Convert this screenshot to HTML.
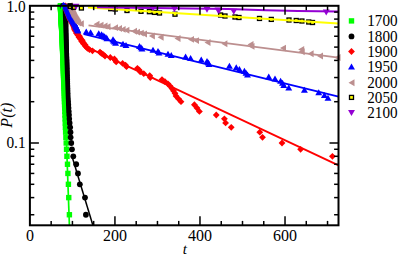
<!DOCTYPE html>
<html><head><meta charset="utf-8"><title>P(t)</title>
<style>html,body{margin:0;padding:0;background:#fff;}body{width:399px;height:255px;overflow:hidden;font-family:"Liberation Serif",serif;}</style></head>
<body>
<svg width="399" height="255" viewBox="0 0 399 255" style="display:block">
<rect x="0" y="0" width="399" height="255" fill="#fff"/>
<g fill="#00ff00"><rect x="57.7" y="3.1" width="5.4" height="5.4"/><rect x="57.73" y="3.7" width="5.4" height="5.4"/><rect x="57.77" y="4.3" width="5.4" height="5.4"/><rect x="57.8" y="4.91" width="5.4" height="5.4"/><rect x="57.83" y="5.53" width="5.4" height="5.4"/><rect x="57.87" y="6.16" width="5.4" height="5.4"/><rect x="57.9" y="6.79" width="5.4" height="5.4"/><rect x="57.94" y="7.42" width="5.4" height="5.4"/><rect x="57.97" y="8.07" width="5.4" height="5.4"/><rect x="58.01" y="8.72" width="5.4" height="5.4"/><rect x="58.04" y="9.38" width="5.4" height="5.4"/><rect x="58.08" y="10.04" width="5.4" height="5.4"/><rect x="58.12" y="10.72" width="5.4" height="5.4"/><rect x="58.15" y="11.4" width="5.4" height="5.4"/><rect x="58.19" y="12.09" width="5.4" height="5.4"/><rect x="58.23" y="12.78" width="5.4" height="5.4"/><rect x="58.27" y="13.49" width="5.4" height="5.4"/><rect x="58.3" y="14.2" width="5.4" height="5.4"/><rect x="58.34" y="14.92" width="5.4" height="5.4"/><rect x="58.38" y="15.66" width="5.4" height="5.4"/><rect x="58.42" y="16.4" width="5.4" height="5.4"/><rect x="58.47" y="17.15" width="5.4" height="5.4"/><rect x="58.51" y="17.9" width="5.4" height="5.4"/><rect x="58.55" y="18.67" width="5.4" height="5.4"/><rect x="58.59" y="19.45" width="5.4" height="5.4"/><rect x="58.63" y="20.24" width="5.4" height="5.4"/><rect x="58.68" y="21.04" width="5.4" height="5.4"/><rect x="58.72" y="21.85" width="5.4" height="5.4"/><rect x="58.77" y="22.67" width="5.4" height="5.4"/><rect x="58.81" y="23.51" width="5.4" height="5.4"/><rect x="58.86" y="24.35" width="5.4" height="5.4"/><rect x="58.9" y="25.21" width="5.4" height="5.4"/><rect x="58.95" y="26.08" width="5.4" height="5.4"/><rect x="59" y="26.96" width="5.4" height="5.4"/><rect x="59.05" y="27.86" width="5.4" height="5.4"/><rect x="59.1" y="28.77" width="5.4" height="5.4"/><rect x="59.15" y="29.69" width="5.4" height="5.4"/><rect x="59.2" y="30.63" width="5.4" height="5.4"/><rect x="59.25" y="31.58" width="5.4" height="5.4"/><rect x="59.3" y="32.55" width="5.4" height="5.4"/><rect x="59.36" y="33.54" width="5.4" height="5.4"/><rect x="59.41" y="34.54" width="5.4" height="5.4"/><rect x="59.45" y="35.56" width="5.4" height="5.4"/><rect x="59.48" y="36.59" width="5.4" height="5.4"/><rect x="59.52" y="37.65" width="5.4" height="5.4"/><rect x="59.56" y="38.72" width="5.4" height="5.4"/><rect x="59.6" y="39.82" width="5.4" height="5.4"/><rect x="59.64" y="40.93" width="5.4" height="5.4"/><rect x="59.68" y="42.06" width="5.4" height="5.4"/><rect x="59.73" y="43.22" width="5.4" height="5.4"/><rect x="59.77" y="44.4" width="5.4" height="5.4"/><rect x="59.81" y="45.61" width="5.4" height="5.4"/><rect x="59.86" y="46.83" width="5.4" height="5.4"/><rect x="59.9" y="48.09" width="5.4" height="5.4"/><rect x="59.95" y="49.37" width="5.4" height="5.4"/><rect x="60" y="50.68" width="5.4" height="5.4"/><rect x="60.05" y="52.02" width="5.4" height="5.4"/><rect x="60.1" y="53.39" width="5.4" height="5.4"/><rect x="60.15" y="54.79" width="5.4" height="5.4"/><rect x="60.2" y="56.23" width="5.4" height="5.4"/><rect x="60.26" y="57.7" width="5.4" height="5.4"/><rect x="60.31" y="59.21" width="5.4" height="5.4"/><rect x="60.37" y="60.75" width="5.4" height="5.4"/><rect x="60.43" y="62.34" width="5.4" height="5.4"/><rect x="60.48" y="63.98" width="5.4" height="5.4"/><rect x="60.55" y="65.65" width="5.4" height="5.4"/><rect x="60.61" y="67.38" width="5.4" height="5.4"/><rect x="60.67" y="69.16" width="5.4" height="5.4"/><rect x="60.74" y="70.99" width="5.4" height="5.4"/><rect x="60.81" y="72.89" width="5.4" height="5.4"/><rect x="60.88" y="74.84" width="5.4" height="5.4"/><rect x="60.96" y="76.86" width="5.4" height="5.4"/><rect x="61.03" y="78.95" width="5.4" height="5.4"/><rect x="61.11" y="81.12" width="5.4" height="5.4"/><rect x="61.19" y="83.37" width="5.4" height="5.4"/><rect x="61.28" y="85.7" width="5.4" height="5.4"/><rect x="61.37" y="88.14" width="5.4" height="5.4"/><rect x="61.46" y="90.67" width="5.4" height="5.4"/><rect x="61.56" y="93.32" width="5.4" height="5.4"/><rect x="61.66" y="96.09" width="5.4" height="5.4"/><rect x="61.77" y="99" width="5.4" height="5.4"/><rect x="61.88" y="102.06" width="5.4" height="5.4"/><rect x="61.99" y="105.28" width="5.4" height="5.4"/><rect x="62.12" y="108.68" width="5.4" height="5.4"/><rect x="62.25" y="112.29" width="5.4" height="5.4"/><rect x="62.39" y="116.14" width="5.4" height="5.4"/><rect x="62.54" y="120.25" width="5.4" height="5.4"/><rect x="62.7" y="124.67" width="5.4" height="5.4"/><rect x="62.92" y="129.44" width="5.4" height="5.4"/><rect x="63.2" y="134.62" width="5.4" height="5.4"/><rect x="63.51" y="140.3" width="5.4" height="5.4"/><rect x="63.85" y="146.58" width="5.4" height="5.4"/><rect x="64.24" y="153.6" width="5.4" height="5.4"/><rect x="64.79" y="161.55" width="5.4" height="5.4"/><rect x="65.22" y="170.74" width="5.4" height="5.4"/><rect x="65.71" y="181.6" width="5.4" height="5.4"/><rect x="66.05" y="194.9" width="5.4" height="5.4"/><rect x="66.7" y="212.04" width="5.4" height="5.4"/></g>
<g fill="#000"><circle cx="63" cy="5.8" r="2.9"/><circle cx="63.23" cy="6.4" r="2.9"/><circle cx="63.46" cy="7" r="2.9"/><circle cx="63.69" cy="7.61" r="2.9"/><circle cx="63.93" cy="8.23" r="2.9"/><circle cx="64.16" cy="8.86" r="2.9"/><circle cx="64.4" cy="9.49" r="2.9"/><circle cx="64.61" cy="10.12" r="2.9"/><circle cx="64.65" cy="10.77" r="2.9"/><circle cx="64.7" cy="11.42" r="2.9"/><circle cx="64.75" cy="12.08" r="2.9"/><circle cx="64.79" cy="12.74" r="2.9"/><circle cx="64.84" cy="13.42" r="2.9"/><circle cx="64.89" cy="14.1" r="2.9"/><circle cx="64.94" cy="14.79" r="2.9"/><circle cx="64.98" cy="15.48" r="2.9"/><circle cx="65.03" cy="16.19" r="2.9"/><circle cx="65.08" cy="16.9" r="2.9"/><circle cx="65.13" cy="17.62" r="2.9"/><circle cx="65.18" cy="18.36" r="2.9"/><circle cx="65.24" cy="19.1" r="2.9"/><circle cx="65.29" cy="19.85" r="2.9"/><circle cx="65.31" cy="20.6" r="2.9"/><circle cx="65.32" cy="21.37" r="2.9"/><circle cx="65.34" cy="22.15" r="2.9"/><circle cx="65.35" cy="22.94" r="2.9"/><circle cx="65.37" cy="23.74" r="2.9"/><circle cx="65.38" cy="24.55" r="2.9"/><circle cx="65.39" cy="25.37" r="2.9"/><circle cx="65.41" cy="26.21" r="2.9"/><circle cx="65.42" cy="27.05" r="2.9"/><circle cx="65.44" cy="27.91" r="2.9"/><circle cx="65.45" cy="28.78" r="2.9"/><circle cx="65.47" cy="29.66" r="2.9"/><circle cx="65.49" cy="30.56" r="2.9"/><circle cx="65.5" cy="31.47" r="2.9"/><circle cx="65.52" cy="32.39" r="2.9"/><circle cx="65.54" cy="33.33" r="2.9"/><circle cx="65.55" cy="34.28" r="2.9"/><circle cx="65.57" cy="35.25" r="2.9"/><circle cx="65.59" cy="36.24" r="2.9"/><circle cx="65.61" cy="37.24" r="2.9"/><circle cx="65.65" cy="38.26" r="2.9"/><circle cx="65.68" cy="39.29" r="2.9"/><circle cx="65.72" cy="40.35" r="2.9"/><circle cx="65.76" cy="41.42" r="2.9"/><circle cx="65.8" cy="42.52" r="2.9"/><circle cx="65.85" cy="43.63" r="2.9"/><circle cx="65.89" cy="44.76" r="2.9"/><circle cx="65.93" cy="45.92" r="2.9"/><circle cx="65.97" cy="47.1" r="2.9"/><circle cx="66.02" cy="48.31" r="2.9"/><circle cx="66.06" cy="49.53" r="2.9"/><circle cx="66.11" cy="50.79" r="2.9"/><circle cx="66.16" cy="52.07" r="2.9"/><circle cx="66.21" cy="53.38" r="2.9"/><circle cx="66.26" cy="54.72" r="2.9"/><circle cx="66.31" cy="56.09" r="2.9"/><circle cx="66.36" cy="57.49" r="2.9"/><circle cx="66.41" cy="58.93" r="2.9"/><circle cx="66.47" cy="60.4" r="2.9"/><circle cx="66.52" cy="61.91" r="2.9"/><circle cx="66.58" cy="63.45" r="2.9"/><circle cx="66.64" cy="65.04" r="2.9"/><circle cx="66.69" cy="66.68" r="2.9"/><circle cx="66.75" cy="68.35" r="2.9"/><circle cx="66.81" cy="70.08" r="2.9"/><circle cx="66.87" cy="71.86" r="2.9"/><circle cx="66.93" cy="73.69" r="2.9"/><circle cx="67" cy="75.59" r="2.9"/><circle cx="67.07" cy="77.54" r="2.9"/><circle cx="67.13" cy="79.56" r="2.9"/><circle cx="67.21" cy="81.65" r="2.9"/><circle cx="67.28" cy="83.82" r="2.9"/><circle cx="67.36" cy="86.07" r="2.9"/><circle cx="67.44" cy="88.4" r="2.9"/><circle cx="67.52" cy="90.84" r="2.9"/><circle cx="67.61" cy="93.37" r="2.9"/><circle cx="67.7" cy="96.02" r="2.9"/><circle cx="67.89" cy="98.79" r="2.9"/><circle cx="68.08" cy="101.7" r="2.9"/><circle cx="68.28" cy="104.76" r="2.9"/><circle cx="68.5" cy="107.98" r="2.9"/><circle cx="68.73" cy="111.38" r="2.9"/><circle cx="68.97" cy="114.99" r="2.9"/><circle cx="69.22" cy="118.84" r="2.9"/><circle cx="69.63" cy="122.95" r="2.9"/><circle cx="70.13" cy="127.37" r="2.9"/><circle cx="70.48" cy="132.14" r="2.9"/><circle cx="70.6" cy="137.32" r="2.9"/><circle cx="71.25" cy="143" r="2.9"/><circle cx="71.95" cy="149.28" r="2.9"/><circle cx="73.3" cy="156.3" r="2.9"/><circle cx="76.2" cy="164.25" r="2.9"/><circle cx="77.96" cy="173.44" r="2.9"/><circle cx="79.83" cy="184.3" r="2.9"/><circle cx="85" cy="197.6" r="2.9"/><circle cx="85.9" cy="214.74" r="2.9"/></g>
<g fill="#ff0000"><path d="M62.1 5.8L65.5 2.4L68.9 5.8L65.5 9.2Z"/><path d="M62.24 6.4L65.64 3L69.04 6.4L65.64 9.8Z"/><path d="M62.39 7L65.79 3.6L69.19 7L65.79 10.4Z"/><path d="M62.53 7.61L65.93 4.21L69.33 7.61L65.93 11.01Z"/><path d="M62.68 8.23L66.08 4.83L69.48 8.23L66.08 11.63Z"/><path d="M62.83 8.86L66.23 5.46L69.63 8.86L66.23 12.26Z"/><path d="M62.98 9.49L66.38 6.09L69.78 9.49L66.38 12.89Z"/><path d="M63.15 10.12L66.55 6.72L69.95 10.12L66.55 13.52Z"/><path d="M63.4 10.77L66.8 7.37L70.2 10.77L66.8 14.17Z"/><path d="M63.65 11.42L67.05 8.02L70.45 11.42L67.05 14.82Z"/><path d="M63.91 12.08L67.31 8.68L70.71 12.08L67.31 15.48Z"/><path d="M64.17 12.74L67.57 9.34L70.97 12.74L67.57 16.14Z"/><path d="M64.43 13.42L67.83 10.02L71.23 13.42L67.83 16.82Z"/><path d="M64.7 14.1L68.1 10.7L71.5 14.1L68.1 17.5Z"/><path d="M64.97 14.79L68.37 11.39L71.77 14.79L68.37 18.19Z"/><path d="M65.24 15.48L68.64 12.08L72.04 15.48L68.64 18.88Z"/><path d="M65.51 16.19L68.91 12.79L72.31 16.19L68.91 19.59Z"/><path d="M65.79 16.9L69.19 13.5L72.59 16.9L69.19 20.3Z"/><path d="M66.07 17.62L69.47 14.22L72.87 17.62L69.47 21.02Z"/><path d="M66.36 18.36L69.76 14.96L73.16 18.36L69.76 21.76Z"/><path d="M66.65 19.1L70.05 15.7L73.45 19.1L70.05 22.5Z"/><path d="M66.94 19.85L70.34 16.45L73.74 19.85L70.34 23.25Z"/><path d="M67.36 20.6L70.76 17.2L74.16 20.6L70.76 24Z"/><path d="M67.82 21.37L71.22 17.97L74.62 21.37L71.22 24.77Z"/><path d="M68.29 22.15L71.69 18.75L75.09 22.15L71.69 25.55Z"/><path d="M68.76 22.94L72.16 19.54L75.56 22.94L72.16 26.34Z"/><path d="M69.24 23.74L72.64 20.34L76.04 23.74L72.64 27.14Z"/><path d="M69.63 24.55L73.03 21.15L76.43 24.55L73.03 27.95Z"/><path d="M69.97 25.37L73.37 21.97L76.77 25.37L73.37 28.77Z"/><path d="M70.32 26.21L73.72 22.81L77.12 26.21L73.72 29.61Z"/><path d="M70.67 27.05L74.07 23.65L77.47 27.05L74.07 30.45Z"/><path d="M70.73 27.91L74.13 24.51L77.53 27.91L74.13 31.31Z"/><path d="M71.99 28.78L75.39 25.38L78.79 28.78L75.39 32.18Z"/><path d="M71.16 29.66L74.56 26.26L77.96 29.66L74.56 33.06Z"/><path d="M72.4 30.56L75.8 27.16L79.2 30.56L75.8 33.96Z"/><path d="M72.38 31.47L75.78 28.07L79.18 31.47L75.78 34.87Z"/><path d="M73.78 32.39L77.18 28.99L80.58 32.39L77.18 35.79Z"/><path d="M73.08 33.33L76.48 29.93L79.88 33.33L76.48 36.73Z"/><path d="M74.45 34.28L77.85 30.88L81.25 34.28L77.85 37.68Z"/><path d="M74.59 35.25L77.99 31.85L81.39 35.25L77.99 38.65Z"/><path d="M76.14 36.24L79.54 32.84L82.94 36.24L79.54 39.64Z"/><path d="M75.6 37.24L79 33.84L82.4 37.24L79 40.64Z"/><path d="M77.08 38.26L80.48 34.86L83.88 38.26L80.48 41.66Z"/><path d="M77.25 39.29L80.65 35.89L84.05 39.29L80.65 42.69Z"/><path d="M78.82 40.35L82.22 36.95L85.62 40.35L82.22 43.75Z"/><path d="M78.31 41.42L81.71 38.02L85.11 41.42L81.71 44.82Z"/><path d="M79.81 42.52L83.21 39.12L86.61 42.52L83.21 45.92Z"/><path d="M80.02 43.63L83.42 40.23L86.82 43.63L83.42 47.03Z"/><path d="M81.65 44.76L85.05 41.36L88.45 44.76L85.05 48.16Z"/><path d="M81.9 45.92L85.3 42.52L88.7 45.92L85.3 49.32Z"/><path d="M82.9 47.1L86.3 43.7L89.7 47.1L86.3 50.5Z"/><path d="M84.1 48.31L87.5 44.91L90.9 48.31L87.5 51.71Z"/><path d="M86.1 49.53L89.5 46.13L92.9 49.53L89.5 52.93Z"/><path d="M89.1 50.79L92.5 47.39L95.9 50.79L92.5 54.19Z"/><path d="M96.6 52.07L100 48.67L103.4 52.07L100 55.47Z"/><path d="M98.1 53.38L101.5 49.98L104.9 53.38L101.5 56.78Z"/><path d="M100.1 54.72L103.5 51.32L106.9 54.72L103.5 58.12Z"/><path d="M101.6 56.09L105 52.69L108.4 56.09L105 59.49Z"/><path d="M106.9 57.49L110.3 54.09L113.7 57.49L110.3 60.89Z"/><path d="M111 58.93L114.4 55.53L117.8 58.93L114.4 62.33Z"/><path d="M111.9 60.4L115.3 57L118.7 60.4L115.3 63.8Z"/><path d="M112.8 61.91L116.2 58.51L119.6 61.91L116.2 65.31Z"/><path d="M119.2 63.45L122.6 60.05L126 63.45L122.6 66.85Z"/><path d="M122.1 65.04L125.5 61.64L128.9 65.04L125.5 68.44Z"/><path d="M123.1 66.68L126.5 63.28L129.9 66.68L126.5 70.08Z"/><path d="M134 68.35L137.4 64.95L140.8 68.35L137.4 71.75Z"/><path d="M135.8 70.08L139.2 66.68L142.6 70.08L139.2 73.48Z"/><path d="M136.8 71.86L140.2 68.46L143.6 71.86L140.2 75.26Z"/><path d="M140.4 73.69L143.8 70.29L147.2 73.69L143.8 77.09Z"/><path d="M146.3 75.59L149.7 72.19L153.1 75.59L149.7 78.99Z"/><path d="M146.9 77.54L150.3 74.14L153.7 77.54L150.3 80.94Z"/><path d="M158.6 79.56L162 76.16L165.4 79.56L162 82.96Z"/><path d="M161.6 81.65L165 78.25L168.4 81.65L165 85.05Z"/><path d="M164.6 83.82L168 80.42L171.4 83.82L168 87.22Z"/><path d="M166.6 86.07L170 82.67L173.4 86.07L170 89.47Z"/><path d="M168.6 88.4L172 85L175.4 88.4L172 91.8Z"/><path d="M170.1 90.84L173.5 87.44L176.9 90.84L173.5 94.24Z"/><path d="M171.6 93.37L175 89.97L178.4 93.37L175 96.77Z"/><path d="M172.6 96.02L176 92.62L179.4 96.02L176 99.42Z"/><path d="M175.1 98.79L178.5 95.39L181.9 98.79L178.5 102.19Z"/><path d="M177.6 101.7L181 98.3L184.4 101.7L181 105.1Z"/><path d="M191 104.76L194.4 101.36L197.8 104.76L194.4 108.16Z"/><path d="M193.6 107.98L197 104.58L200.4 107.98L197 111.38Z"/><path d="M196 111.38L199.4 107.98L202.8 111.38L199.4 114.78Z"/><path d="M212.85 114.99L216.25 111.59L219.65 114.99L216.25 118.39Z"/><path d="M221 118.84L224.4 115.44L227.8 118.84L224.4 122.24Z"/><path d="M222.2 122.95L225.6 119.55L229 122.95L225.6 126.35Z"/><path d="M227.85 127.37L231.25 123.97L234.65 127.37L231.25 130.77Z"/><path d="M256.35 132.14L259.75 128.74L263.15 132.14L259.75 135.54Z"/><path d="M259.1 137.32L262.5 133.92L265.9 137.32L262.5 140.72Z"/><path d="M278.6 143L282 139.6L285.4 143L282 146.4Z"/><path d="M297.2 149.28L300.6 145.88L304 149.28L300.6 152.68Z"/><path d="M329 156.3L332.4 152.9L335.8 156.3L332.4 159.7Z"/></g>
<g fill="#0000ff"><path d="M63.3 1.8L66.76 7.8L59.84 7.8Z"/><path d="M64.17 2.4L67.64 8.4L60.71 8.4Z"/><path d="M65.05 3L68.51 9L61.59 9Z"/><path d="M65.94 3.61L69.4 9.61L62.48 9.61Z"/><path d="M66.6 4.23L70.06 10.23L63.13 10.23Z"/><path d="M66.85 4.86L70.32 10.86L63.39 10.86Z"/><path d="M67.11 5.49L70.57 11.49L63.65 11.49Z"/><path d="M67.37 6.12L70.83 12.12L63.91 12.12Z"/><path d="M67.64 6.77L71.1 12.77L64.17 12.77Z"/><path d="M67.9 7.42L71.37 13.42L64.44 13.42Z"/><path d="M68.17 8.08L71.64 14.08L64.71 14.08Z"/><path d="M68.44 8.74L71.91 14.74L64.98 14.74Z"/><path d="M68.72 9.42L72.18 15.42L65.26 15.42Z"/><path d="M69 10.1L72.46 16.1L65.54 16.1Z"/><path d="M69.28 10.79L72.75 16.79L65.82 16.79Z"/><path d="M69.57 11.48L73.03 17.48L66.1 17.48Z"/><path d="M69.86 12.19L73.32 18.19L66.39 18.19Z"/><path d="M70.15 12.9L73.61 18.9L66.69 18.9Z"/><path d="M70.45 13.62L73.91 19.62L66.98 19.62Z"/><path d="M70.81 14.36L74.28 20.36L67.35 20.36Z"/><path d="M71.26 15.1L74.72 21.1L67.79 21.1Z"/><path d="M71.71 15.85L75.17 21.85L68.24 21.85Z"/><path d="M72.16 16.6L75.63 22.6L68.7 22.6Z"/><path d="M72.62 17.37L76.09 23.37L69.16 23.37Z"/><path d="M73.09 18.15L76.55 24.15L69.62 24.15Z"/><path d="M73.54 18.94L77.01 24.94L70.08 24.94Z"/><path d="M74 19.74L77.47 25.74L70.54 25.74Z"/><path d="M74.47 20.55L77.93 26.55L71 26.55Z"/><path d="M74.94 21.37L78.4 27.37L71.48 27.37Z"/><path d="M75.4 22.21L78.86 28.21L71.93 28.21Z"/><path d="M75.8 23.05L79.26 29.05L72.33 29.05Z"/><path d="M76.2 23.91L79.67 29.91L72.74 29.91Z"/><path d="M76.61 24.78L80.08 30.78L73.15 30.78Z"/><path d="M77.03 25.66L80.5 31.66L73.57 31.66Z"/><path d="M77.45 26.56L80.92 32.56L73.99 32.56Z"/><path d="M77.89 27.47L81.35 33.47L74.42 33.47Z"/><path d="M86.25 28.39L89.71 34.39L82.79 34.39Z"/><path d="M90.6 29.33L94.06 35.33L87.14 35.33Z"/><path d="M98.75 30.28L102.21 36.28L95.29 36.28Z"/><path d="M101.5 31.25L104.96 37.25L98.04 37.25Z"/><path d="M103 32.24L106.46 38.24L99.54 38.24Z"/><path d="M104.5 33.24L107.96 39.24L101.04 39.24Z"/><path d="M106 34.26L109.46 40.26L102.54 40.26Z"/><path d="M107 35.29L110.46 41.29L103.54 41.29Z"/><path d="M113 36.35L116.46 42.35L109.54 42.35Z"/><path d="M113.5 37.42L116.96 43.42L110.04 43.42Z"/><path d="M114.5 38.52L117.96 44.52L111.04 44.52Z"/><path d="M115.6 39.63L119.06 45.63L112.14 45.63Z"/><path d="M123 40.76L126.46 46.76L119.54 46.76Z"/><path d="M126 41.92L129.46 47.92L122.54 47.92Z"/><path d="M139.5 43.1L142.96 49.1L136.04 49.1Z"/><path d="M141 44.31L144.46 50.31L137.54 50.31Z"/><path d="M142 45.53L145.46 51.53L138.54 51.53Z"/><path d="M153 46.79L156.46 52.79L149.54 52.79Z"/><path d="M158 48.07L161.46 54.07L154.54 54.07Z"/><path d="M159 49.38L162.46 55.38L155.54 55.38Z"/><path d="M168 50.72L171.46 56.72L164.54 56.72Z"/><path d="M171.25 52.09L174.71 58.09L167.79 58.09Z"/><path d="M185.6 53.49L189.06 59.49L182.14 59.49Z"/><path d="M190.6 54.93L194.06 60.93L187.14 60.93Z"/><path d="M201.25 56.4L204.71 62.4L197.79 62.4Z"/><path d="M207 57.91L210.46 63.91L203.54 63.91Z"/><path d="M208.3 59.45L211.76 65.45L204.84 65.45Z"/><path d="M209 61.04L212.46 67.04L205.54 67.04Z"/><path d="M229.4 62.68L232.86 68.68L225.94 68.68Z"/><path d="M236.25 64.35L239.71 70.35L232.79 70.35Z"/><path d="M239.4 66.08L242.86 72.08L235.94 72.08Z"/><path d="M244.4 67.86L247.86 73.86L240.94 73.86Z"/><path d="M246 69.69L249.46 75.69L242.54 75.69Z"/><path d="M247.5 71.59L250.96 77.59L244.04 77.59Z"/><path d="M268.75 73.54L272.21 79.54L265.29 79.54Z"/><path d="M275 75.56L278.46 81.56L271.54 81.56Z"/><path d="M280.6 77.65L284.06 83.65L277.14 83.65Z"/><path d="M282.5 79.82L285.96 85.82L279.04 85.82Z"/><path d="M283.75 82.07L287.21 88.07L280.29 88.07Z"/><path d="M288.75 84.4L292.21 90.4L285.29 90.4Z"/><path d="M304.4 86.84L307.86 92.84L300.94 92.84Z"/><path d="M318.75 89.37L322.21 95.37L315.29 95.37Z"/><path d="M324.4 92.02L327.86 98.02L320.94 98.02Z"/><path d="M328 94.79L331.46 100.79L324.54 100.79Z"/></g>
<g fill="#bc8f8f"><path d="M66.5 5.8L72.5 2.34L72.5 9.26Z"/><path d="M66.74 6.4L72.74 2.93L72.74 9.86Z"/><path d="M66.99 7L72.99 3.54L72.99 10.47Z"/><path d="M67.23 7.61L73.23 4.15L73.23 11.08Z"/><path d="M67.48 8.23L73.48 4.77L73.48 11.7Z"/><path d="M67.74 8.86L73.74 5.39L73.74 12.32Z"/><path d="M67.99 9.49L73.99 6.02L73.99 12.95Z"/><path d="M68.25 10.12L74.25 6.66L74.25 13.59Z"/><path d="M68.54 10.77L74.54 7.3L74.54 14.23Z"/><path d="M68.82 11.42L74.82 7.96L74.82 14.88Z"/><path d="M69.11 12.08L75.11 8.61L75.11 15.54Z"/><path d="M69.4 12.74L75.4 9.28L75.4 16.21Z"/><path d="M69.69 13.42L75.69 9.95L75.69 16.88Z"/><path d="M69.99 14.1L75.99 10.63L75.99 17.56Z"/><path d="M70.29 14.79L76.29 11.32L76.29 18.25Z"/><path d="M70.6 15.48L76.6 12.02L76.6 18.95Z"/><path d="M70.91 16.19L76.91 12.72L76.91 19.65Z"/><path d="M71.31 16.9L77.31 13.44L77.31 20.37Z"/><path d="M71.75 17.62L77.75 14.16L77.75 21.09Z"/><path d="M72.2 18.36L78.2 14.89L78.2 21.82Z"/><path d="M72.65 19.1L78.65 15.63L78.65 22.56Z"/><path d="M73.11 19.85L79.11 16.38L79.11 23.31Z"/><path d="M73.58 20.6L79.58 17.14L79.58 24.07Z"/><path d="M74.05 21.37L80.05 17.91L80.05 24.84Z"/><path d="M74.54 22.15L80.54 18.69L80.54 25.62Z"/><path d="M75.15 22.94L81.15 19.48L81.15 26.41Z"/><path d="M77.8 23.74L83.8 20.28L83.8 27.21Z"/><path d="M93.5 24.3L99.5 20.84L99.5 27.76Z"/><path d="M97.5 25.1L103.5 21.64L103.5 28.56Z"/><path d="M101.5 25.95L107.5 22.49L107.5 29.41Z"/><path d="M104.5 26.8L110.5 23.34L110.5 30.26Z"/><path d="M112 27.65L118 24.19L118 31.11Z"/><path d="M116 28.5L122 25.04L122 31.96Z"/><path d="M119.6 29.4L125.6 25.94L125.6 32.86Z"/><path d="M123.4 30.3L129.4 26.84L129.4 33.76Z"/><path d="M131 31.2L137 27.74L137 34.66Z"/><path d="M134 32.15L140 28.69L140 35.61Z"/><path d="M137.75 33.1L143.75 29.64L143.75 36.56Z"/><path d="M141 34L147 30.54L147 37.46Z"/><path d="M148.9 36L154.9 32.54L154.9 39.46Z"/><path d="M157.6 37.3L163.6 33.84L163.6 40.76Z"/><path d="M174.5 38.5L180.5 35.04L180.5 41.96Z"/><path d="M188 39.4L194 35.94L194 42.86Z"/><path d="M193 40.6L199 37.14L199 44.06Z"/><path d="M204.5 42.5L210.5 39.04L210.5 45.96Z"/><path d="M221.4 43.75L227.4 40.29L227.4 47.21Z"/><path d="M247.5 44.4L253.5 40.94L253.5 47.86Z"/><path d="M248.5 46.4L254.5 42.94L254.5 49.86Z"/><path d="M280 48.1L286 44.64L286 51.56Z"/><path d="M298.2 49.4L304.2 45.94L304.2 52.86Z"/><path d="M298.7 51.8L304.7 48.34L304.7 55.26Z"/><path d="M307.6 53.75L313.6 50.29L313.6 57.21Z"/><path d="M317 56L323 52.54L323 59.46Z"/><path d="M334.5 57.5L340.5 54.04L340.5 60.96Z"/></g>
<g fill="#ffff00" stroke="#000" stroke-width="1.3"><rect x="68" y="3.8" width="4" height="4"/><rect x="68.5" y="4.4" width="4" height="4"/><rect x="71.5" y="5.3" width="4" height="4"/><rect x="79.4" y="6" width="4" height="4"/><rect x="108.7" y="6.7" width="4" height="4"/><rect x="113.3" y="7" width="4" height="4"/><rect x="125" y="8.5" width="4" height="4"/><rect x="139" y="9.3" width="4" height="4"/><rect x="147.4" y="9.7" width="4" height="4"/><rect x="152.4" y="10.4" width="4" height="4"/><rect x="157.5" y="11" width="4" height="4"/><rect x="173" y="12.2" width="4" height="4"/><rect x="218.6" y="13" width="4" height="4"/><rect x="223" y="14" width="4" height="4"/><rect x="233" y="15" width="4" height="4"/><rect x="237" y="15.5" width="4" height="4"/><rect x="257.5" y="16.45" width="4" height="4"/><rect x="269.3" y="17.4" width="4" height="4"/><rect x="287" y="18" width="4" height="4"/><rect x="294.25" y="18.5" width="4" height="4"/><rect x="299.9" y="19" width="4" height="4"/><rect x="306.75" y="20" width="4" height="4"/><rect x="310.5" y="20.5" width="4" height="4"/></g>
<g fill="#9400d3"><path d="M76 9.8L79.46 3.8L72.54 3.8Z"/><path d="M113 11L116.46 5L109.54 5Z"/><path d="M153 11.6L156.46 5.6L149.54 5.6Z"/><path d="M174.4 12.2L177.86 6.2L170.94 6.2Z"/><path d="M207 12.86L210.46 6.86L203.54 6.86Z"/><path d="M218 13.5L221.46 7.5L214.54 7.5Z"/><path d="M219 14.1L222.46 8.1L215.54 8.1Z"/><path d="M233.75 14.8L237.21 8.8L230.29 8.8Z"/><path d="M326.25 15.4L329.71 9.4L322.79 9.4Z"/></g>
<line x1="61.7" y1="5.8" x2="69.4" y2="225" stroke="#00ff00" stroke-width="1.7"/>
<line x1="72.5" y1="158" x2="92.8" y2="225" stroke="#000" stroke-width="1.5"/>
<line x1="88" y1="47.67" x2="338.5" y2="165.4" stroke="#ff0000" stroke-width="1.8"/>
<line x1="84" y1="34.23" x2="338.5" y2="96.58" stroke="#0000ff" stroke-width="1.8"/>
<line x1="88.5" y1="25.41" x2="338.5" y2="57.56" stroke="#bc8f8f" stroke-width="1.8"/>
<line x1="88" y1="7.55" x2="338.5" y2="23.48" stroke="#ffff00" stroke-width="2"/>
<polyline points="97,7.2 190,8.4 228,9.1 266,10.3 298,11.0 338.5,11.6" fill="none" stroke="#9400d3" stroke-width="2"/>
<g stroke="#000" stroke-width="2.0" fill="none" stroke-linecap="butt">
<rect x="29.9" y="5.8" width="308.6" height="219.5"/>
</g>
<g stroke="#000" stroke-width="1.5"><line x1="51.16" y1="225.3" x2="51.16" y2="220.9"/><line x1="51.16" y1="5.8" x2="51.16" y2="10.2"/><line x1="72.42" y1="225.3" x2="72.42" y2="220.9"/><line x1="72.42" y1="5.8" x2="72.42" y2="10.2"/><line x1="93.68" y1="225.3" x2="93.68" y2="220.9"/><line x1="93.68" y1="5.8" x2="93.68" y2="10.2"/><line x1="114.94" y1="225.3" x2="114.94" y2="216.3"/><line x1="114.94" y1="5.8" x2="114.94" y2="14.8"/><line x1="136.2" y1="225.3" x2="136.2" y2="220.9"/><line x1="136.2" y1="5.8" x2="136.2" y2="10.2"/><line x1="157.46" y1="225.3" x2="157.46" y2="220.9"/><line x1="157.46" y1="5.8" x2="157.46" y2="10.2"/><line x1="178.72" y1="225.3" x2="178.72" y2="220.9"/><line x1="178.72" y1="5.8" x2="178.72" y2="10.2"/><line x1="199.98" y1="225.3" x2="199.98" y2="216.3"/><line x1="199.98" y1="5.8" x2="199.98" y2="14.8"/><line x1="221.24" y1="225.3" x2="221.24" y2="220.9"/><line x1="221.24" y1="5.8" x2="221.24" y2="10.2"/><line x1="242.5" y1="225.3" x2="242.5" y2="220.9"/><line x1="242.5" y1="5.8" x2="242.5" y2="10.2"/><line x1="263.76" y1="225.3" x2="263.76" y2="220.9"/><line x1="263.76" y1="5.8" x2="263.76" y2="10.2"/><line x1="285.02" y1="225.3" x2="285.02" y2="216.3"/><line x1="285.02" y1="5.8" x2="285.02" y2="14.8"/><line x1="306.28" y1="225.3" x2="306.28" y2="220.9"/><line x1="306.28" y1="5.8" x2="306.28" y2="10.2"/><line x1="327.54" y1="225.3" x2="327.54" y2="220.9"/><line x1="327.54" y1="5.8" x2="327.54" y2="10.2"/><line x1="29.9" y1="12.08" x2="34.3" y2="12.08"/><line x1="338.5" y1="12.08" x2="334.1" y2="12.08"/><line x1="29.9" y1="19.1" x2="34.3" y2="19.1"/><line x1="338.5" y1="19.1" x2="334.1" y2="19.1"/><line x1="29.9" y1="27.05" x2="34.3" y2="27.05"/><line x1="338.5" y1="27.05" x2="334.1" y2="27.05"/><line x1="29.9" y1="36.24" x2="34.3" y2="36.24"/><line x1="338.5" y1="36.24" x2="334.1" y2="36.24"/><line x1="29.9" y1="47.1" x2="34.3" y2="47.1"/><line x1="338.5" y1="47.1" x2="334.1" y2="47.1"/><line x1="29.9" y1="60.4" x2="34.3" y2="60.4"/><line x1="338.5" y1="60.4" x2="334.1" y2="60.4"/><line x1="29.9" y1="77.54" x2="34.3" y2="77.54"/><line x1="338.5" y1="77.54" x2="334.1" y2="77.54"/><line x1="29.9" y1="101.7" x2="34.3" y2="101.7"/><line x1="338.5" y1="101.7" x2="334.1" y2="101.7"/><line x1="29.9" y1="143" x2="38.9" y2="143"/><line x1="338.5" y1="143" x2="329.5" y2="143"/><line x1="29.9" y1="149.28" x2="34.3" y2="149.28"/><line x1="338.5" y1="149.28" x2="334.1" y2="149.28"/><line x1="29.9" y1="156.3" x2="34.3" y2="156.3"/><line x1="338.5" y1="156.3" x2="334.1" y2="156.3"/><line x1="29.9" y1="164.25" x2="34.3" y2="164.25"/><line x1="338.5" y1="164.25" x2="334.1" y2="164.25"/><line x1="29.9" y1="173.44" x2="34.3" y2="173.44"/><line x1="338.5" y1="173.44" x2="334.1" y2="173.44"/><line x1="29.9" y1="184.3" x2="34.3" y2="184.3"/><line x1="338.5" y1="184.3" x2="334.1" y2="184.3"/><line x1="29.9" y1="197.6" x2="34.3" y2="197.6"/><line x1="338.5" y1="197.6" x2="334.1" y2="197.6"/><line x1="29.9" y1="214.74" x2="34.3" y2="214.74"/><line x1="338.5" y1="214.74" x2="334.1" y2="214.74"/></g>
<g font-family="Liberation Serif, serif" fill="#000">
<text x="25.6" y="11.6" font-size="16" text-anchor="end" textLength="19.2" lengthAdjust="spacingAndGlyphs">1.0</text>
<text x="25.6" y="148.3" font-size="16" text-anchor="end" textLength="19.2" lengthAdjust="spacingAndGlyphs">0.1</text>
<text x="29.9" y="241.3" font-size="16" text-anchor="middle">0</text>
<text x="114.94" y="241.3" font-size="16" text-anchor="middle">200</text>
<text x="199.98" y="241.3" font-size="16" text-anchor="middle">400</text>
<text x="285.02" y="241.3" font-size="16" text-anchor="middle">600</text>
<text x="184.8" y="253.9" font-size="15" font-style="italic" text-anchor="middle">t</text>
<text transform="translate(11.8,115.2) rotate(-90)" font-size="16" font-style="italic" text-anchor="middle">P(t)</text>
<text x="367.3" y="26.1" font-size="16" textLength="30.3" lengthAdjust="spacingAndGlyphs">1700</text>
<text x="367.3" y="41.6" font-size="16" textLength="30.3" lengthAdjust="spacingAndGlyphs">1800</text>
<text x="367.3" y="56.7" font-size="16" textLength="30.3" lengthAdjust="spacingAndGlyphs">1900</text>
<text x="367.3" y="71.7" font-size="16" textLength="30.3" lengthAdjust="spacingAndGlyphs">1950</text>
<text x="367.3" y="88" font-size="16" textLength="30.3" lengthAdjust="spacingAndGlyphs">2000</text>
<text x="367.3" y="102.6" font-size="16" textLength="30.3" lengthAdjust="spacingAndGlyphs">2050</text>
<text x="367.3" y="118.2" font-size="16" textLength="30.3" lengthAdjust="spacingAndGlyphs">2100</text>
</g>
<rect x="348.8" y="18.2" width="5.4" height="5.4" fill="#00ff00"/>
<circle cx="351.5" cy="36.4" r="2.9" fill="#000"/>
<path d="M348.1 51.5L351.5 48.1L354.9 51.5L351.5 54.9Z" fill="#ff0000"/>
<path d="M351.5 63.5L354.96 69.5L348.04 69.5Z" fill="#0000ff"/>
<path d="M348.5 82.8L354.5 79.34L354.5 86.26Z" fill="#bc8f8f"/>
<rect x="349.5" y="95.4" width="4" height="4" fill="#ffff00" stroke="#000" stroke-width="1.3"/>
<path d="M351.5 116L354.96 110L348.04 110Z" fill="#9400d3"/>
</svg>
</body></html>
